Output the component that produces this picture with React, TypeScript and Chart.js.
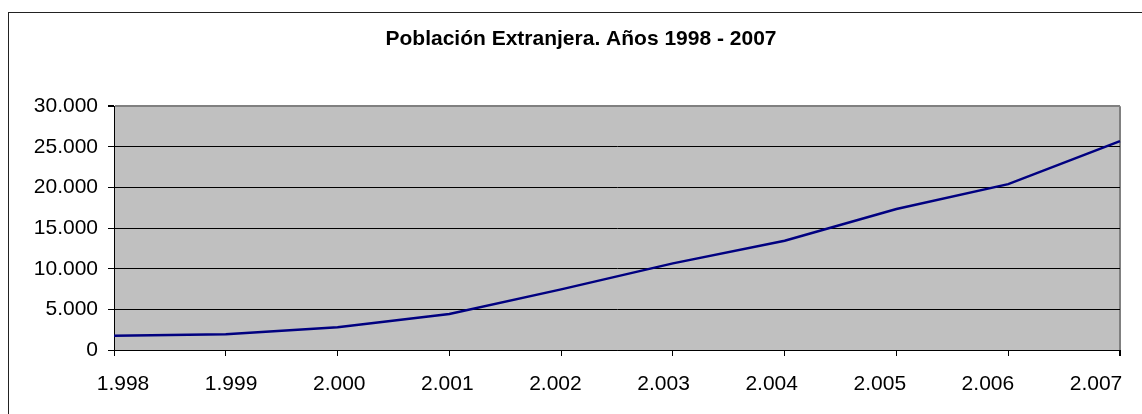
import React, { useEffect, useRef } from "react";
import { Chart, registerables } from "chart.js";

Chart.register(...registerables);

const TITLE = "Población Extranjera. Años 1998 - 2007";
const categories = [1998, 1999, 2000, 2001, 2002, 2003, 2004, 2005, 2006, 2007];
const poblacion = [1760, 1930, 2790, 4420, 7460, 10660, 13440, 17340, 20410, 25700];
const yMin = 0;
const yMax = 30000;
const yStep = 5000;

const FONT = "'Liberation Sans', Arial, sans-serif";

function fmt(n: number): string {
  return String(Math.round(n)).replace(/\B(?=(\d{3})+(?!\d))/g, ".");
}

const plotBg = {
  id: "plotBg",
  beforeDraw(chart: any) {
    const { ctx, chartArea } = chart;
    if (!chartArea) return;
    ctx.save();
    ctx.fillStyle = "#c0c0c0";
    ctx.fillRect(chartArea.left, chartArea.top, chartArea.right - chartArea.left, chartArea.bottom - chartArea.top);
    ctx.restore();
  },
};

export default function App() {
  const ref = useRef<HTMLCanvasElement | null>(null);

  useEffect(() => {
    if (!ref.current) return;
    const n = categories.length;
    const chart = new Chart(ref.current, {
      type: "line",
      data: {
        labels: categories.map((c) => fmt(c)),
        datasets: [
          {
            label: "Población",
            data: poblacion,
            borderColor: "#000080",
            backgroundColor: "#000080",
            borderWidth: 2.5,
            pointRadius: 0,
            tension: 0,
            fill: false,
          },
        ],
      },
      options: {
        responsive: false,
        animation: false,
        events: [],
        layout: { padding: { left: 20, right: 0, top: 0, bottom: 16 } },
        plugins: {
          legend: { display: false },
          tooltip: { enabled: false },
          title: {
            display: true,
            text: TITLE,
            color: "#000",
            font: { family: FONT, size: 21, weight: "bold" },
            padding: { top: 27, bottom: 54 },
          },
        },
        scales: {
          x: {
            type: "category",
            offset: false,
            position: "bottom",
            ticks: { display: false },
            grid: {
              drawOnChartArea: true,
              drawTicks: true,
              tickLength: 6,
              tickColor: "#000",
              color: (ctx: any) => (ctx.index === n - 1 ? "#808080" : "rgba(0,0,0,0)"),
              lineWidth: (ctx: any) => (ctx.index === n - 1 ? 2 : 1),
            },
            border: { display: true, color: "#000", width: 1 },
            afterFit: (scale: any) => {
              scale.height = 6;
            },
          },
          xl: {
            type: "linear",
            position: "bottom",
            min: -0.0833,
            max: 9.222,
            grid: { display: false, drawTicks: false, tickLength: 0 },
            border: { display: false },
            ticks: {
              stepSize: 1,
              includeBounds: false,
              autoSkip: false,
              maxRotation: 0,
              padding: 16,
              color: "#000",
              font: { family: FONT, size: 21 },
              callback: (v: any) =>
                Number.isInteger(v) && v >= 0 && v < n ? fmt(categories[v]) : "",
            },
            afterFit: (scale: any) => {
              scale.height = 42;
            },
          },
          y: {
            min: yMin,
            max: yMax,
            ticks: {
              stepSize: yStep,
              padding: 10,
              color: "#000",
              font: { family: FONT, size: 21 },
              callback: (v: any) => fmt(Number(v)),
            },
            grid: {
              color: (ctx: any) => (ctx.tick && ctx.tick.value === yMax ? "#808080" : "#000"),
              lineWidth: (ctx: any) => (ctx.tick && ctx.tick.value === yMax ? 2 : 1),
              tickColor: "#000",
              tickLength: 6,
            },
            border: { display: true, color: "#000", width: 1 },
            afterFit: (scale: any) => {
              scale.width = 94;
            },
          },
          yr: {
            type: "linear",
            position: "right",
            min: yMin,
            max: yMax,
            grid: { display: false, drawTicks: false },
            border: { display: false },
            ticks: { display: false },
            afterFit: (scale: any) => {
              scale.width = 22;
            },
          },
        },
      } as any,
      plugins: [plotBg],
    });
    return () => chart.destroy();
  }, []);

  return (
    <div
      style={{
        position: "fixed",
        left: 0,
        top: 0,
        width: 1142,
        height: 414,
        overflow: "hidden",
        background: "#fff",
      }}
    >
      <div
        style={{
          position: "absolute",
          left: 8,
          top: 12,
          width: 1300,
          height: 600,
          border: "1px solid #222",
          boxSizing: "border-box",
        }}
      />
      <canvas
        ref={ref}
        width={1142}
        height={414}
        style={{ position: "absolute", left: 0, top: 0, width: 1142, height: 414 }}
      />
    </div>
  );
}
